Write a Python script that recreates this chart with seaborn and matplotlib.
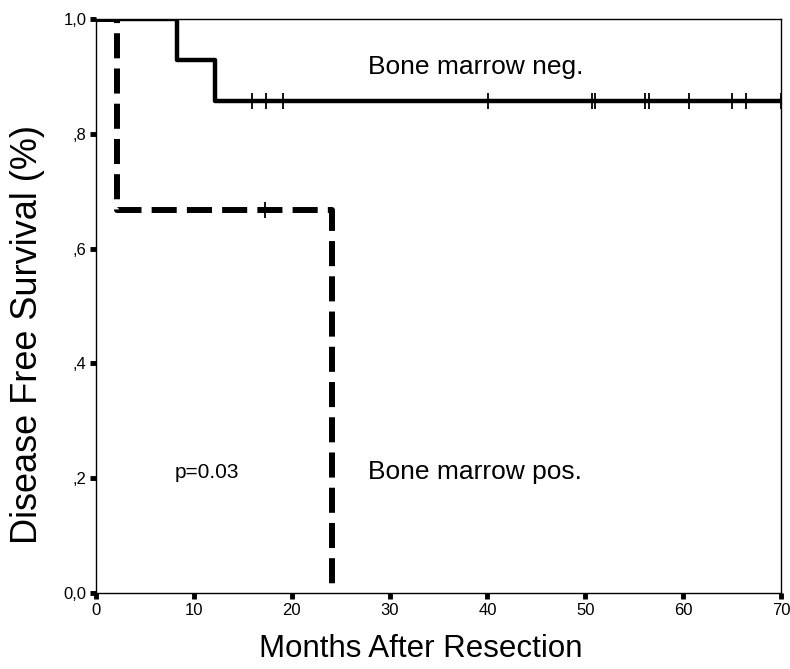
import pandas as pd
import matplotlib
matplotlib.use("Agg")
import matplotlib.pyplot as plt
import seaborn as sns

# Kaplan-Meier steps
neg_months = [0, 8.3, 12.2, 70]
neg_surv = [1.0, 0.929, 0.857, 0.857]
neg_censored = [15.9, 17.4, 19.1, 40.1, 50.7, 51.0, 56.1, 56.5, 60.6, 65.0, 66.4, 70.0]

pos_months = [0, 2.1, 24.1]
pos_surv = [1.0, 0.667, 0.0]
pos_censored = [17.3]

y_ticks = [0.0, 0.2, 0.4, 0.6, 0.8, 1.0]
y_labels = ["0,0", ",2", ",4", ",6", ",8", "1,0"]
x_ticks = [0, 10, 20, 30, 40, 50, 60, 70]

sns.set_style("ticks")
plt.rcParams['font.family'] = ['Liberation Sans', 'DejaVu Sans']
plt.rcParams['text.color'] = 'black'
plt.rcParams['axes.labelcolor'] = 'black'
plt.rcParams['xtick.color'] = 'black'
plt.rcParams['ytick.color'] = 'black'

neg = pd.DataFrame({'month': neg_months, 'surv': neg_surv})
pos = pd.DataFrame({'month': pos_months, 'surv': pos_surv})
neg_c = pd.DataFrame({'month': neg_censored, 'surv': [neg_surv[-1]] * len(neg_censored)})
pos_c = pd.DataFrame({'month': pos_censored, 'surv': [pos_surv[1]] * len(pos_censored)})

fig = plt.figure(figsize=(7.9, 6.69), dpi=100)
ax = fig.add_axes([0.1215, 0.1136, 0.8671, 0.858])

sns.lineplot(data=neg, x='month', y='surv', ax=ax, color='black', linewidth=3.2,
             drawstyle='steps-post', estimator=None, sort=False, solid_capstyle='butt')
sns.lineplot(data=pos, x='month', y='surv', ax=ax, color='black', linewidth=4.3,
             drawstyle='steps-post', estimator=None, sort=False, dashes=False,
             linestyle=(0, (4.2, 1.7)))
ax.plot(neg_c['month'], neg_c['surv'], linestyle='none', marker='|', color='black',
        markersize=11, markeredgewidth=1.3)
ax.plot(pos_c['month'], pos_c['surv'], linestyle='none', marker='|', color='black',
        markersize=11, markeredgewidth=1.3)

ax.set_xlim(0, 70)
ax.set_ylim(0, 1.0)
ax.set_xticks(x_ticks)
ax.set_yticks(y_ticks)
ax.set_yticklabels(y_labels)
ax.tick_params(axis='both', direction='out', length=4, width=3.5, labelsize=12, pad=3)
for s in ax.spines.values():
    s.set_linewidth(1.0)
    s.set_color('black')

ax.set_xlabel("Months After Resection", fontsize=22.5)
ax.set_ylabel("Disease Free Survival (%)", fontsize=26)
ax.xaxis.set_label_coords(0.474, -0.072)
ax.yaxis.set_label_coords(-0.075, 0.45)

ax.text(27.8, 0.916, "Bone marrow neg.", fontsize=19, va='center')
ax.text(27.8, 0.21, "Bone marrow pos.", fontsize=19, va='center')
ax.text(8.0, 0.21, "p=0.03", fontsize=15, va='center')

fig.savefig('out.png', dpi=100)
